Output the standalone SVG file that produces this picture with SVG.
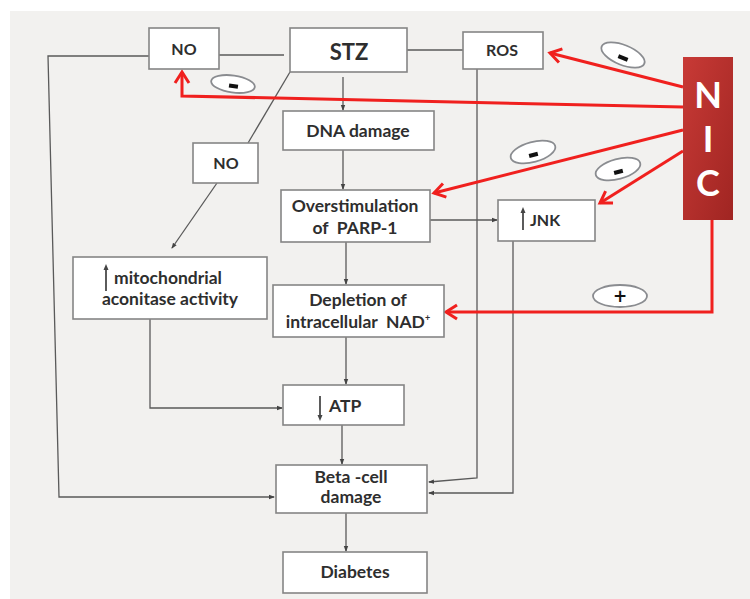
<svg xmlns="http://www.w3.org/2000/svg" width="750" height="599" viewBox="0 0 750 599">
<defs>
<style>
.box{fill:#fff;stroke:#858585;stroke-width:1.6}
.t{font-family:Lato,"Open Sans","Liberation Sans",sans-serif;font-weight:700;fill:#2e2e2e;font-size:17.5px;text-anchor:middle}
.con{fill:none;stroke:#5a5a5a;stroke-width:1.3}
.red{fill:none;stroke:#f0201e;stroke-width:3}
.oval{fill:#fff;stroke:#8a8c90;stroke-width:1.8}
.sign{font-family:"DejaVu Sans","Liberation Sans",sans-serif;font-weight:700;fill:#111;text-anchor:middle}
.nic{font-family:Lato,"Open Sans","Liberation Sans",sans-serif;font-weight:700;fill:#fff;font-size:36px;text-anchor:middle}
</style>
<marker id="ga" markerWidth="6" markerHeight="6" refX="5" refY="3" orient="auto" markerUnits="userSpaceOnUse">
<path d="M0,0.8 L6,3 L0,5.2 Z" fill="#444"/>
</marker>
<marker id="ra" markerWidth="16" markerHeight="18" refX="13" refY="9" orient="auto" markerUnits="userSpaceOnUse">
<path d="M2,2 L13,9 L2,16" fill="none" stroke="#f0201e" stroke-width="3"/>
</marker>
<marker id="sa" markerWidth="6" markerHeight="6" refX="3" refY="3" orient="auto" markerUnits="userSpaceOnUse">
<path d="M0,0.5 L6,3 L0,5.5 Z" fill="#444"/>
</marker>
<linearGradient id="nicg" x1="0" y1="0" x2="1" y2="1">
<stop offset="0" stop-color="#c83a36"/>
<stop offset="1" stop-color="#a02522"/>
</linearGradient>
</defs>
<rect x="10" y="11" width="740" height="588" fill="#f2f1ef"/>

<g id="connectors">
<polyline class="con" points="149,56 48,56 59,497 274,497" marker-end="url(#ga)"/>
<line class="con" x1="219" y1="55" x2="284" y2="55"/>
<line class="con" x1="407" y1="50" x2="463" y2="50"/>
<line class="con" x1="290" y1="72" x2="248" y2="143"/>
<line class="con" x1="217" y1="183" x2="172" y2="248" marker-end="url(#ga)"/>
<line class="con" x1="343" y1="77" x2="343" y2="110" marker-end="url(#ga)"/>
<line class="con" x1="343" y1="150" x2="343" y2="189" marker-end="url(#ga)"/>
<line class="con" x1="430" y1="220" x2="497" y2="220" marker-end="url(#ga)"/>
<line class="con" x1="346" y1="242" x2="346" y2="284" marker-end="url(#ga)"/>
<line class="con" x1="346" y1="337" x2="346" y2="384" marker-end="url(#ga)"/>
<polyline class="con" points="150,319 150,408 282,408" marker-end="url(#ga)"/>
<line class="con" x1="342" y1="425" x2="342" y2="464" marker-end="url(#ga)"/>
<line class="con" x1="346" y1="513" x2="346" y2="551" marker-end="url(#ga)"/>
<polyline class="con" points="477,69 477,478 429,482" marker-end="url(#ga)"/>
<polyline class="con" points="513,241 513,493 429,493" marker-end="url(#ga)"/>
<polyline class="red" points="683,107 182,96 182,72" marker-end="url(#ra)"/>
<line class="red" x1="683" y1="87" x2="550" y2="53" marker-end="url(#ra)"/>
<line class="red" x1="683" y1="130" x2="434" y2="193" marker-end="url(#ra)"/>
<line class="red" x1="683" y1="151" x2="600" y2="203" marker-end="url(#ra)"/>
<polyline class="red" points="712,220 712,312 446,312" marker-end="url(#ra)"/>
</g>

<g id="sign-no">
<ellipse class="oval" cx="233" cy="84" rx="22" ry="8.5" transform="rotate(8 233 84)"/>
<rect x="229" y="84" width="9" height="4" fill="#111" transform="rotate(8 233 86)"/>
</g>
<g id="sign-ros">
<ellipse class="oval" cx="623" cy="55" rx="23" ry="10" transform="rotate(22 623 55)"/>
<rect x="618" y="56" width="10" height="4" fill="#111" transform="rotate(22 623 58)"/>
</g>
<g id="sign-parp">
<ellipse class="oval" cx="533" cy="152" rx="23" ry="10" transform="rotate(-15 533 152)"/>
<rect x="529" y="153" width="9" height="4" fill="#111" transform="rotate(-15 533 155)"/>
</g>
<g id="sign-jnk">
<ellipse class="oval" cx="618" cy="169" rx="23" ry="10" transform="rotate(-15 618 169)"/>
<rect x="614" y="170" width="9" height="4" fill="#111" transform="rotate(-15 618 172)"/>
</g>
<g id="sign-nad">
<ellipse class="oval" cx="620" cy="296" rx="27" ry="11"/>
<text class="sign" x="620" y="302" style="font-size:17px">+</text>
</g>

<g id="nic">
<rect x="683" y="57" width="50" height="163" fill="url(#nicg)"/>
<text class="nic" x="708" y="108">N</text>
<text class="nic" x="708" y="152">I</text>
<text class="nic" x="708" y="196">C</text>
</g>

<g id="no-top">
<rect class="box" x="149" y="28" width="70" height="41"/>
<text class="t" x="184" y="55" style="font-size:16px">NO</text>
</g>
<g id="stz">
<rect class="box" x="290" y="28" width="117" height="44"/>
<text class="t" x="349" y="60" style="font-size:22px">STZ</text>
</g>
<g id="ros">
<rect class="box" x="463" y="32" width="80" height="37"/>
<text class="t" x="502" y="56" style="font-size:16px">ROS</text>
</g>
<g id="dna">
<rect class="box" x="283" y="111" width="151" height="39"/>
<text class="t" x="358" y="137">DNA damage</text>
</g>
<g id="no-mid">
<rect class="box" x="193" y="143" width="65" height="40"/>
<text class="t" x="226" y="169" style="font-size:16px">NO</text>
</g>
<g id="parp">
<rect class="box" x="281" y="190" width="149" height="52"/>
<text class="t" x="355" y="212">Overstimulation</text>
<text class="t" x="355" y="234" xml:space="preserve">of  PARP-1</text>
</g>
<g id="jnk">
<rect class="box" x="498" y="200" width="97" height="41"/>
<line x1="523" y1="230" x2="523" y2="210" stroke="#333" stroke-width="1.6" marker-end="url(#sa)"/>
<text class="t" x="530" y="226" style="font-size:16px;text-anchor:start">JNK</text>
</g>
<g id="mito">
<rect class="box" x="73" y="257" width="194" height="62"/>
<line x1="106" y1="291" x2="106" y2="267" stroke="#333" stroke-width="1.6" marker-end="url(#sa)"/>
<text class="t" x="114" y="284" style="text-anchor:start">mitochondrial</text>
<text class="t" x="170" y="305">aconitase activity</text>
</g>
<g id="nad">
<rect class="box" x="273" y="285" width="171" height="52"/>
<text class="t" x="358" y="306">Depletion of</text>
<text class="t" x="358" y="328" xml:space="preserve">intracellular  NAD<tspan style="font-size:9px" dy="-7">+</tspan></text>
</g>
<g id="atp">
<rect class="box" x="283" y="385" width="121" height="40"/>
<line x1="320" y1="396" x2="320" y2="418" stroke="#333" stroke-width="1.6" marker-end="url(#sa)"/>
<text class="t" x="329" y="412" style="text-anchor:start">ATP</text>
</g>
<g id="beta">
<rect class="box" x="276" y="465" width="151" height="48"/>
<text class="t" x="351" y="483">Beta -cell</text>
<text class="t" x="351" y="503">damage</text>
</g>
<g id="diabetes">
<rect class="box" x="283" y="552" width="144" height="41"/>
<text class="t" x="355" y="578">Diabetes</text>
</g>
</svg>
